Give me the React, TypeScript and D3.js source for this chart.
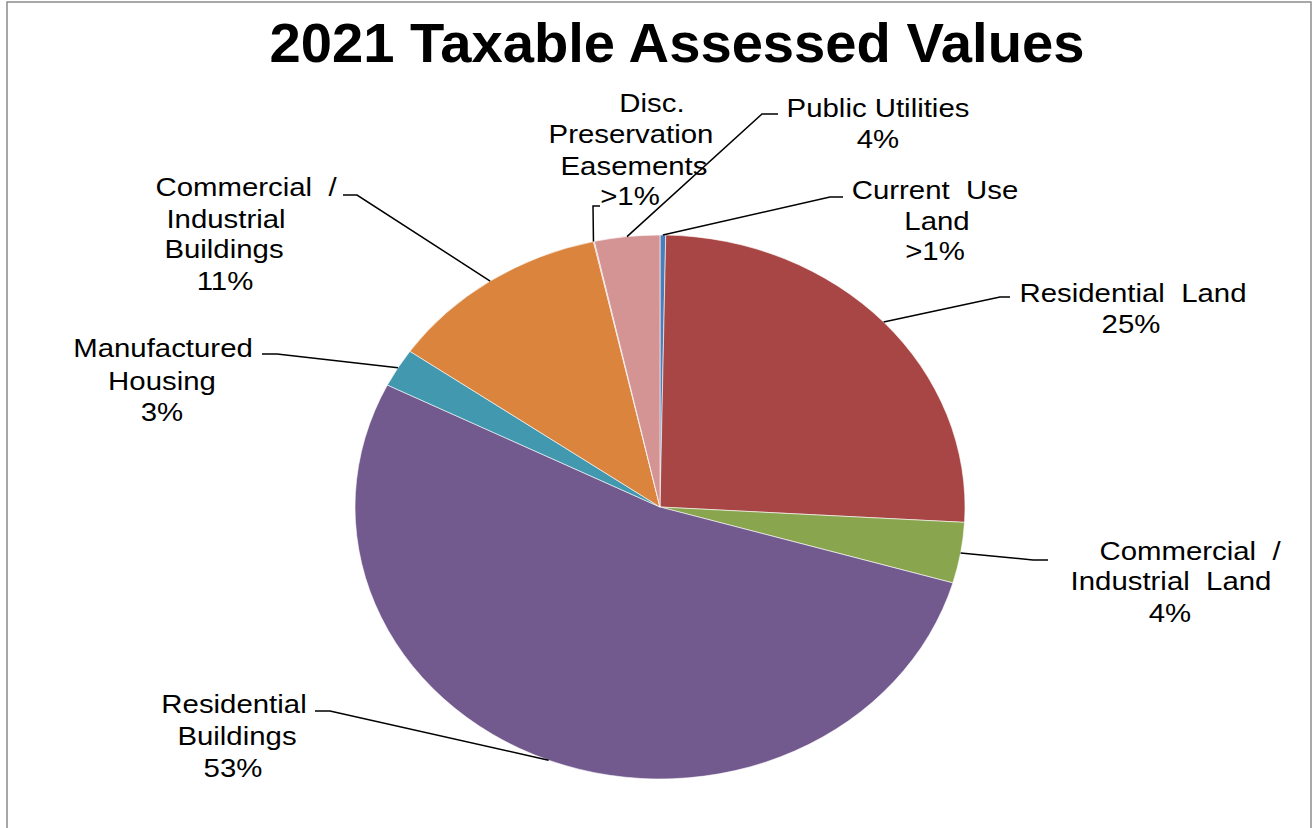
import React from "react";
import * as d3 from "d3";

const categories = [
  "Current Use Land",
  "Residential Land",
  "Commercial / Industrial Land",
  "Residential Buildings",
  "Manufactured Housing",
  "Commercial / Industrial Buildings",
  "Disc. Preservation Easements",
  "Public Utilities",
];
const values = [0.3, 25.6, 3.6, 52.9, 2.3, 11.8, 0.05, 3.45];
const percentLabels = [">1%", "25%", "4%", "53%", "3%", "11%", ">1%", "4%"];
const colors = ["#4a7ebb", "#a84645", "#89a54e", "#725a8e", "#4298ae", "#da843d", "#d1908f", "#d49493"];

// label layout (final pixel coords): name lines, elbow, stub end, line positions
const labelNameLines = [
  ["Current  Use", "Land"],
  ["Residential  Land"],
  ["Commercial  /", "Industrial  Land"],
  ["Residential", "Buildings"],
  ["Manufactured", "Housing"],
  ["Commercial  /", "Industrial", "Buildings"],
  ["Disc.", "Preservation", "Easements"],
  ["Public Utilities"],
];
const labelLinePos: [number, number][][] = [
  [[935, 199], [937, 230], [935, 260]],
  [[1133, 302], [1131, 333]],
  [[1190, 560], [1171, 590], [1170, 622]],
  [[234, 713], [237, 745], [233, 777]],
  [[163, 357], [162, 390], [162, 421]],
  [[246, 196], [226, 228], [224, 258], [225, 290]],
  [[652, 112], [631, 143], [634, 175], [630, 205]],
  [[878, 117], [878, 148]],
];
const leaderElbow: [number, number][] = [
  [830, 197], [1000, 297], [1033, 560], [330, 711], [277, 354], [357, 195], [593, 206], [762, 114],
];
const leaderEnd: [number, number][] = [
  [843, 197], [1010, 297], [1048, 560], [315, 711], [262, 354], [343, 195], [600, 206], [778, 114],
];

const W = 1312;
const H = 828;
const cx = 660;
const cy = 507;
const ry = 272;
const rx = 305;
const sx = rx / ry;
const textStretch = 1.13;
const FONT = "'Liberation Sans', Arial, Helvetica, sans-serif";

export default function App() {
  const pie = d3.pie<number>().sort(null).value((d) => d)(values);
  const arc = d3.arc<d3.PieArcDatum<number>>().innerRadius(0).outerRadius(ry);

  return (
    <svg
      width={W}
      height={H}
      style={{ position: "absolute", left: 0, top: 0, display: "block", background: "#fff" }}
    >
      <rect x={7} y={2} width={1304} height={860} fill="#fff" stroke="#8c8c8c" strokeWidth={1.5} />
      <text
        x={677}
        y={62}
        textAnchor="middle"
        fontFamily={FONT}
        fontWeight="bold"
        fontSize={56}
        textLength={815}
        lengthAdjust="spacingAndGlyphs"
        fill="#000"
      >
        2021 Taxable Assessed Values
      </text>
      <g transform={`translate(${cx},${cy}) scale(${sx},1)`}>
        {pie.map((p, i) => (
          <path
            key={i}
            d={arc(p) || ""}
            fill={colors[i]}
            stroke="#ffffff"
            strokeWidth={0.6}
            vectorEffect="non-scaling-stroke"
          />
        ))}
      </g>
      {pie.map((p, i) => {
        const mid = (p.startAngle + p.endAngle) / 2;
        const isDisc = categories[i].startsWith("Disc");
        const a = isDisc ? p.startAngle : mid;
        const x0 = cx + rx * Math.sin(a);
        const y0 = cy - ry * Math.cos(a);
        const [ex, ey] = leaderElbow[i];
        const [tx, ty] = leaderEnd[i];
        return (
          <polyline
            key={"l" + i}
            points={`${x0},${y0} ${ex},${ey} ${tx},${ty}`}
            fill="none"
            stroke="#000"
            strokeWidth={1.5}
          />
        );
      })}
      {categories.map((c, i) => {
        const lines = [...labelNameLines[i], percentLabels[i]];
        return (
          <g key={"t" + i}>
            {lines.map((ln, j) => {
              const [lx, ly] = labelLinePos[i][j];
              return (
                <text
                  key={j}
                  transform={`translate(${lx},${ly}) scale(${textStretch},1)`}
                  textAnchor="middle"
                  fontFamily={FONT}
                  fontSize={26}
                  fill="#000"
                  style={{ whiteSpace: "pre" }}
                >
                  {ln}
                </text>
              );
            })}
          </g>
        );
      })}
    </svg>
  );
}
